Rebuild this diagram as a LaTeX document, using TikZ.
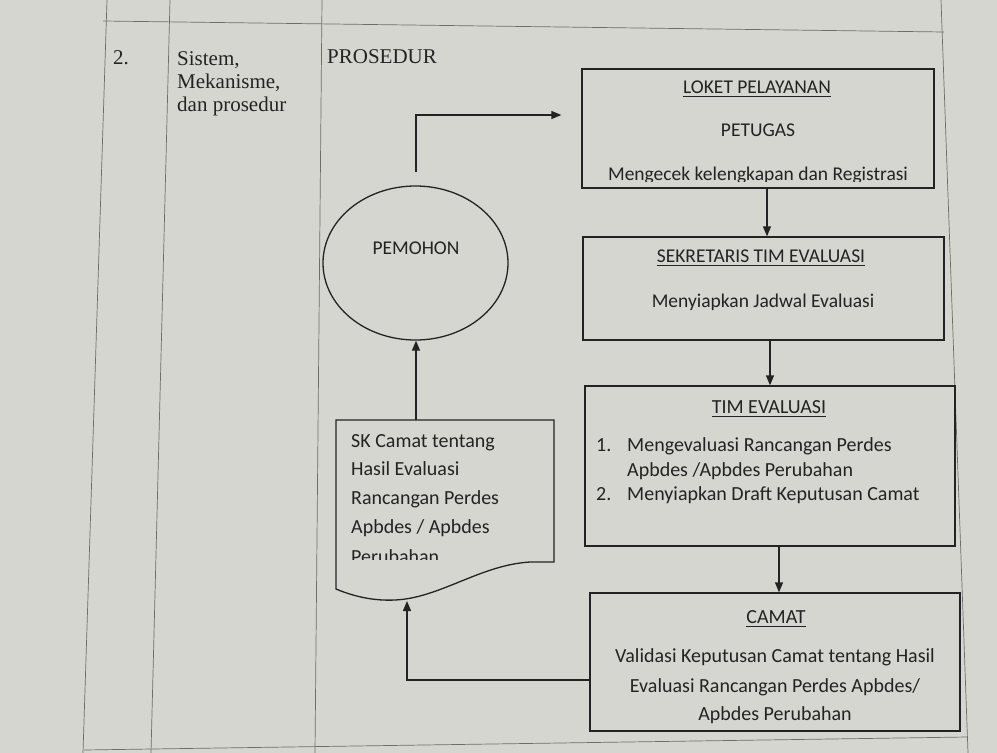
\documentclass[tikz,border=0pt]{standalone}
\usepackage{fontspec}
\setmainfont{Liberation Serif}
\newfontfamily\calibri{Carlito}
\usetikzlibrary{arrows.meta,shapes.geometric}
\definecolor{paper}{RGB}{214,214,208}
\definecolor{ink}{RGB}{35,35,35}
\definecolor{rulecol}{RGB}{110,110,105}
\begin{document}
\begin{tikzpicture}[x=1pt,y=-1pt,
  boxline/.style={draw=ink,line width=1.3pt,inner sep=0pt},
  flow/.style={draw=ink,line width=1.3pt,-{Triangle[length=10pt,width=8pt]}},
  tline/.style={draw=rulecol,line width=0.7pt},
  uline/.style={draw=ink,line width=1pt},
  ctext/.style={font=\calibri\fontsize{20}{24}\selectfont,text=ink,inner sep=0pt,anchor=base},
  ctexts/.style={ctext,font=\calibri\fontsize{19.5}{24}\selectfont},
  ltext/.style={ctext,anchor=base west},
  stext/.style={font=\fontsize{21}{25}\selectfont,text=ink,inner sep=0pt,anchor=base west}]
\fill[paper] (0,0) rectangle (997,753);
\useasboundingbox (0,0) rectangle (997,753);
% table rules
\draw[tline] (107,0) -- (83,753);
\draw[tline] (170,0) -- (151,753);
\draw[tline] (322,0) -- (315,753);
\draw[tline] (941,0) -- (968,753);
\draw[tline] (103,21) -- (944,32);
\draw[tline] (84,750) -- (967,737);
% left column texts
\node[stext] (num) at (113,64) {2.};
\node[stext] (s1) at (177,65) {Sistem,};
\node[stext] (s2) at (177,88) {Mekanisme,};
\node[stext] (s3) at (177,111) {dan prosedur};
\node[stext] (pros) at (327,63) {PROSEDUR};
% boxes
\node[boxline,minimum width=352pt,minimum height=119pt] (loket) at (758,128.5) {};
\node[boxline,minimum width=361pt,minimum height=103pt] (sek) at (763.5,288.5) {};
\node[boxline,minimum width=370pt,minimum height=160pt] (tim) at (770,466) {};
\node[boxline,minimum width=370pt,minimum height=138pt] (camat) at (775,662) {};
% loket texts
\node[ctexts] (lt) at (757,93) {LOKET PELAYANAN};
\draw[uline] ([yshift=-3pt]lt.base west) -- ([yshift=-3pt]lt.base east);
\node[ctexts] (lp) at (758,136) {PETUGAS};
\begin{scope}
\clip (582,150) rectangle (934,181);
\node[ctexts] (lm) at (758,180) {Mengecek kelengkapan dan Registrasi};
\end{scope}
% sekretaris texts
\node[ctexts] (st) at (761,262) {SEKRETARIS TIM EVALUASI};
\draw[uline] ([yshift=-3pt]st.base west) -- ([yshift=-3pt]st.base east);
\node[ctexts] (sm) at (763,307) {Menyiapkan Jadwal Evaluasi};
% tim texts
\node[ctext] (tt) at (769,413) {TIM EVALUASI};
\draw[uline] ([yshift=-3pt]tt.base west) -- ([yshift=-3pt]tt.base east);
\node[ltext] (tn1) at (596,451) {1.};
\node[ltext] (ti1) at (627,451) {Mengevaluasi Rancangan Perdes};
\node[ltext] (ti2) at (627,476) {Apbdes /Apbdes Perubahan};
\node[ltext] (tn2) at (596,500) {2.};
\node[ltext] (ti3) at (627,500) {Menyiapkan Draft Keputusan Camat};
% camat texts
\node[ctext] (ct) at (776,623) {CAMAT};
\draw[uline] ([yshift=-3pt]ct.base west) -- ([yshift=-3pt]ct.base east);
\node[ctext] (c1) at (775,662) {Validasi Keputusan Camat tentang Hasil};
\node[ctext] (c2) at (775,692) {Evaluasi Rancangan Perdes Apbdes/};
\node[ctext] (c3) at (775,720) {Apbdes Perubahan};
% pemohon
\node[draw=ink,line width=1.3pt,ellipse,minimum width=185pt,minimum height=154pt,inner sep=0pt] (pem) at (415.5,263) {};
\node[ctexts] (pemt) at (416,254) {PEMOHON};
% document shape
\draw[ink,line width=1.3pt] (336,420) -- (554,420) -- (554,562) -- (530,562)
  .. controls (480,565) and (440,598) .. (395,600)
  .. controls (375,601) and (355,597) .. (336,589) -- cycle;
\coordinate (doctop) at (416,420);
\coordinate (docbot) at (407,601);
\node[ltext] (d1) at (351,447) {SK Camat tentang};
\node[ltext] (d2) at (351,475) {Hasil Evaluasi};
\node[ltext] (d3) at (351,504) {Rancangan Perdes};
\node[ltext] (d4) at (351,533) {Apbdes / Apbdes};
\begin{scope}
\clip (340,540) rectangle (550,559);
\node[ltext] (d5) at (351,563) {Perubahan};
\end{scope}
% connectors
\coordinate (pemstart) at (416,172);
\draw[flow] (pemstart) |- ([xshift=-20pt,yshift=13.5pt]loket.west);
\draw[flow] ([xshift=9pt]loket.south) -- ([xshift=9pt]loket.south |- sek.north);
\draw[flow] ([xshift=6.5pt]sek.south) -- ([xshift=6.5pt]sek.south |- tim.north);
\draw[flow] ([xshift=9pt]tim.south) -- ([xshift=9pt]tim.south |- camat.north);
\draw[flow] ([yshift=-18pt]camat.west) -| (docbot);
\draw[flow] (doctop) -- (doctop |- pem.south);
\end{tikzpicture}
\end{document}
